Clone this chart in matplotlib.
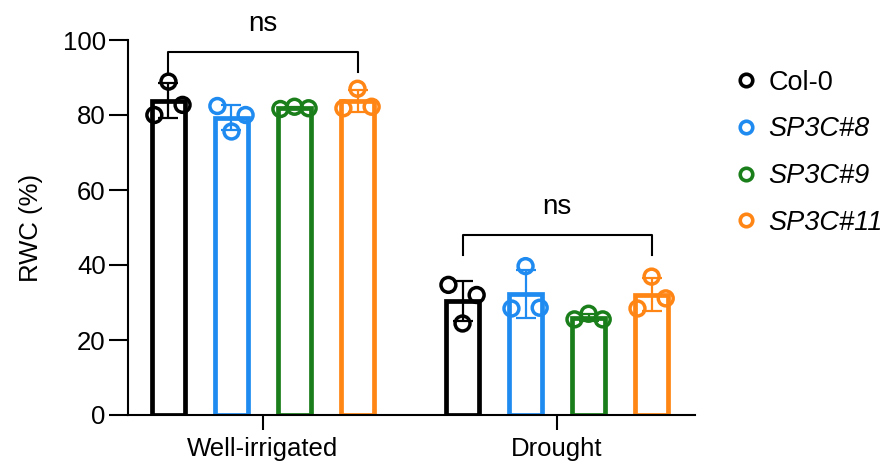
import matplotlib
matplotlib.use("Agg")
import matplotlib.pyplot as plt
import numpy as np
from matplotlib.lines import Line2D

plt.rcParams['font.family'] = ['Liberation Sans', 'DejaVu Sans']

# ---- data ----
conditions = ["Well-irrigated", "Drought"]
genotypes = ["Col-0", "SP3C#8", "SP3C#9", "SP3C#11"]
italic_label = [False, True, True, True]
colors = ["#000000", "#1F8BF0", "#1A7F1A", "#FF8514"]
# replicate values (left, middle, right point) per genotype
well_irrigated = [
    [80.0, 88.9, 82.7],
    [82.4, 75.6, 80.0],
    [81.6, 82.2, 81.8],
    [81.8, 87.0, 82.2],
]
drought = [
    [34.7, 24.4, 32.0],
    [28.4, 39.7, 28.6],
    [25.5, 27.0, 25.5],
    [28.4, 36.9, 31.1],
]
yticks = [0, 20, 40, 60, 80, 100]
sig_labels = ["ns", "ns"]

fig = plt.figure(figsize=(8.93, 4.63), dpi=100)
ax = fig.add_axes([128/893, 1-415/463, (695-128)/893, (415-40)/463])

group_pos = np.arange(len(conditions))
offsets = np.array([-1.5, -0.5, 0.5, 1.5]) * 0.2143
bar_w = 0.113
jitter = np.array([-0.048, 0.0, 0.048])

all_data = [well_irrigated, drought]
for gi, data in enumerate(all_data):
    for k, vals in enumerate(data):
        x = group_pos[gi] + offsets[k]
        m = np.mean(vals)
        sd = np.std(vals, ddof=1)
        ax.bar(x, m, width=bar_w, facecolor='white', edgecolor=colors[k],
               linewidth=3.4, zorder=2)
        ax.errorbar(x, m, yerr=sd, color=colors[k], elinewidth=1.6,
                    capsize=7, capthick=1.6, zorder=3)
        ax.scatter(x + jitter, vals, s=115, facecolor='none',
                   edgecolor=colors[k], linewidth=2.5, zorder=4)

# significance brackets
br = [(96.9, 91.6), (48.0, 42.7)]
for gi in range(len(conditions)):
    x1 = group_pos[gi] + offsets[0]
    x2 = group_pos[gi] + offsets[-1]
    ytop, ybot = br[gi]
    ax.plot([x1, x1, x2, x2], [ybot, ytop, ytop, ybot], color='black',
            linewidth=1.5, clip_on=False, zorder=5)
    ax.text(group_pos[gi], ytop + 4.0, sig_labels[gi], ha='center', va='bottom',
            fontsize=20, clip_on=False)

ax.set_xlim(-0.459, 1.469)
ax.set_ylim(0, 100)
ax.set_yticks(yticks)
ax.set_xticks(group_pos)
ax.set_xticklabels(conditions, fontsize=18.5)
ax.tick_params(axis='y', labelsize=18.5, length=14, width=1.5, pad=2)
ax.tick_params(axis='x', length=11, width=1.5, pad=5)
ax.set_ylabel("RWC (%)", fontsize=18.5)
ax.yaxis.set_label_coords(-0.150, 0.5)
for s in ['top', 'right']:
    ax.spines[s].set_visible(False)
for s in ['left', 'bottom']:
    ax.spines[s].set_linewidth(1.5)

handles = [Line2D([], [], linestyle='none', marker='o', markersize=9,
                  markerfacecolor='none', markeredgecolor=c, markeredgewidth=2.6)
           for c in colors]
leg = ax.legend(handles, genotypes, loc='upper left', frameon=False,
                bbox_to_anchor=(727/893, 1-59/463), bbox_transform=fig.transFigure,
                borderaxespad=0, fontsize=19.5, handlelength=0.6,
                handletextpad=0.52, labelspacing=0.76)
for t, it in zip(leg.get_texts(), italic_label):
    if it:
        t.set_fontstyle('italic')

fig.savefig("out.png", dpi=100)
